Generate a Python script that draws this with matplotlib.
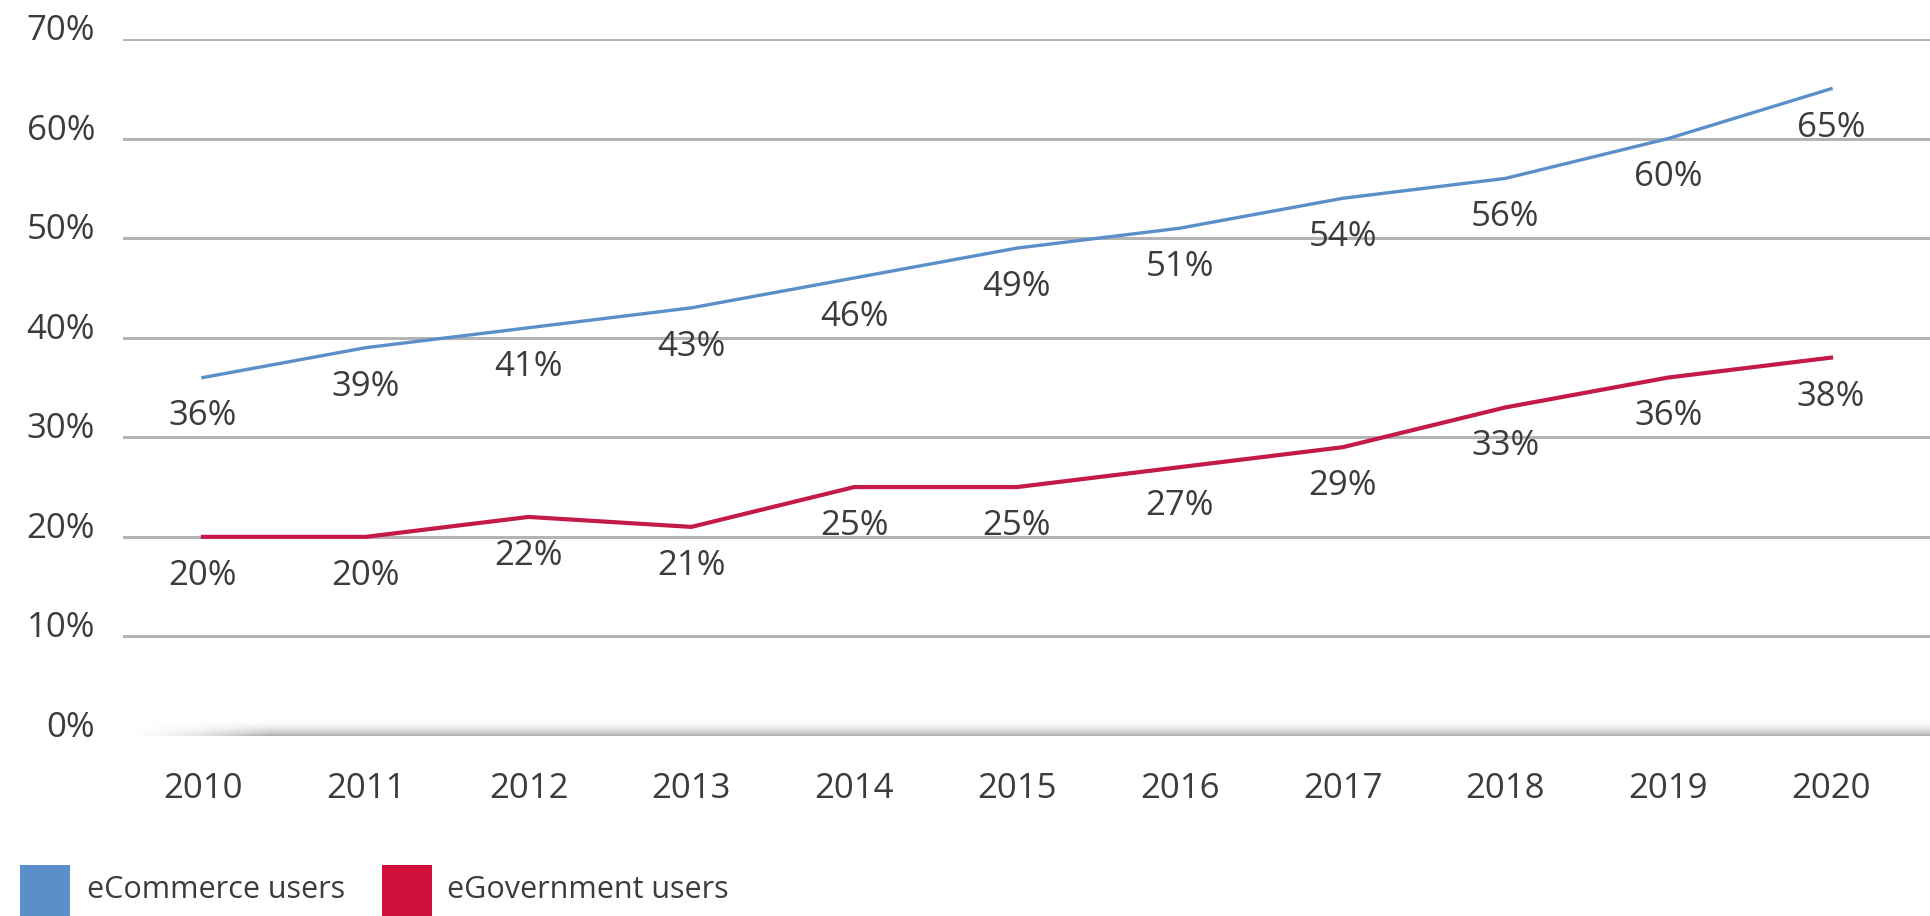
import numpy as np
import matplotlib
matplotlib.use("Agg")
import matplotlib.pyplot as plt
from matplotlib.patches import Rectangle
from matplotlib.transforms import ScaledTranslation

plt.rcParams["font.family"] = ["Open Sans", "DejaVu Sans"]

years = [2010, 2011, 2012, 2013, 2014, 2015, 2016, 2017, 2018, 2019, 2020]
ecommerce = [36, 39, 41, 43, 46, 49, 51, 54, 56, 60, 65]
egovernment = [20, 20, 22, 21, 25, 25, 27, 29, 33, 36, 38]
y_ticks = [0, 10, 20, 30, 40, 50, 60, 70]
series_names = ["eCommerce users", "eGovernment users"]

BLUE = "#5b8fca"
RED = "#c41a4a"
TEXT = "#3c3c3c"
GRID = "#b4b4b4"
FS = 25

fig = plt.figure(figsize=(19.31, 9.16), dpi=100)
ax = fig.add_axes([123 / 1931, 1 - 736 / 916, 1 - 123 / 1931, (736 - 39) / 916])

x0, x1 = 2009.509, 2020.614
ax.set_xlim(x0, x1)
ax.set_ylim(0, 70)

# gridlines (0 gets its own line with a shadow)
for t in y_ticks[1:]:
    ax.axhline(t, color=GRID, lw=2.2, zorder=1)

# baseline with soft shadow, fading out on the left
nx, ny = 400, 60
xs = np.linspace(x0, x1, nx)
ys = np.linspace(-0.5, 1.8, ny)
fade_x = np.clip((xs - x0) / (2010.4 - x0), 0, 1) ** 1.5
prof = np.clip((1.8 - ys) / 2.1, 0, 1) ** 2.2 * 0.8
prof[ys < -0.25] = 0
alpha = prof[:, None] * fade_x[None, :]
img = np.zeros((ny, nx, 4))
img[..., :3] = 0.42
img[..., 3] = alpha
ax.imshow(img, extent=[x0, x1, -0.5, 1.8], origin="lower", aspect="auto",
          interpolation="bilinear", zorder=1)
ax.set_xlim(x0, x1)
ax.set_ylim(0, 70)

ax.plot(years, ecommerce, color=BLUE, lw=2.4, solid_joinstyle="round", zorder=3, clip_on=False)
ax.plot(years, egovernment, color=RED, lw=3.0, solid_joinstyle="round", zorder=3, clip_on=False)

for series in (ecommerce, egovernment):
    for x, v in zip(years, series):
        ax.annotate(f"{v}%", (x, v), xytext=(0, -28), textcoords="offset points",
                    ha="center", va="center", fontsize=FS, color=TEXT, zorder=4)

for s in ax.spines.values():
    s.set_visible(False)

ax.set_yticks(y_ticks)
ax.set_yticklabels([f"{t}%" for t in y_ticks])
ax.set_xticks(years)
ax.set_xticklabels([str(y) for y in years])
ax.tick_params(axis="y", length=0, pad=20, labelsize=FS, labelcolor=TEXT)
ax.tick_params(axis="x", length=0, pad=26, labelsize=FS, labelcolor=TEXT)
offset = ScaledTranslation(0, 12 / 100, fig.dpi_scale_trans)
for lab in ax.get_yticklabels():
    lab.set_transform(lab.get_transform() + offset)

# legend
W, H = 1931, 916
for (left, tx), col, name in zip([(20, 87), (382, 447)], [BLUE, "#d0103a"], series_names):
    fig.patches.append(Rectangle((left / W, 1 - 916 / H), 50 / W, 51 / H,
                                 transform=fig.transFigure, color=col, lw=0))
    fig.text(tx / W, 1 - 890 / H, name, fontsize=22, color=TEXT, va="center", ha="left")

fig.savefig("out.png", dpi=100)
